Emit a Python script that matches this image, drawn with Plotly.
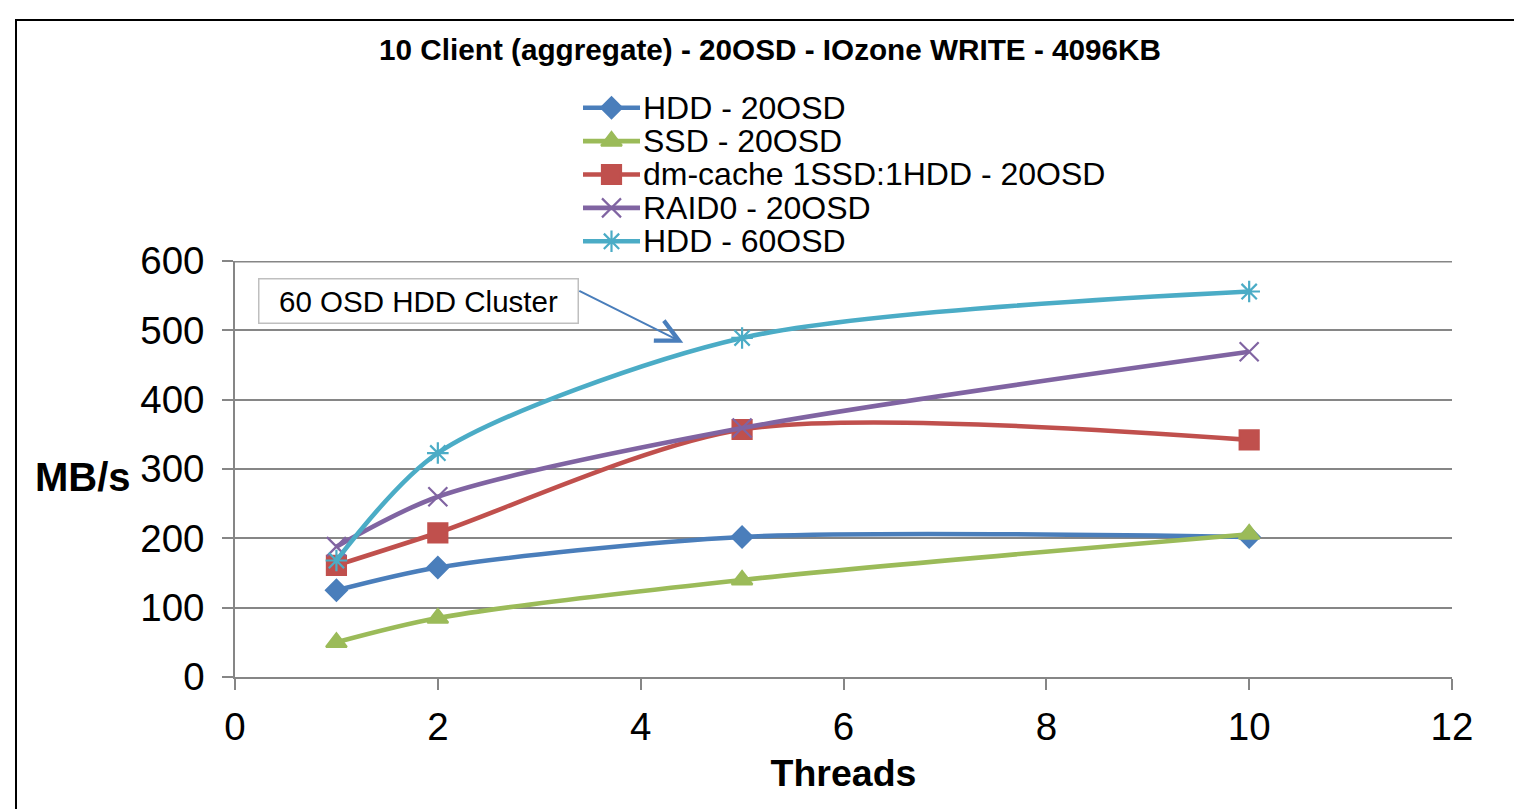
import plotly.graph_objects as go

# ---------------- data ----------------
threads = [1, 2, 5, 10]
series_names = ["HDD - 20OSD", "SSD - 20OSD", "dm-cache 1SSD:1HDD - 20OSD",
                "RAID0 - 20OSD", "HDD - 60OSD"]
hdd_20 = [125, 158, 202, 202]
ssd_20 = [50, 85, 140, 206]
dmcache_20 = [161, 208, 357, 342]
raid0_20 = [188, 260, 359, 469]
hdd_60 = [168, 323, 489, 556]
series_values = [hdd_20, ssd_20, dmcache_20, raid0_20, hdd_60]

x_ticks = [0, 2, 4, 6, 8, 10, 12]
y_ticks = [0, 100, 200, 300, 400, 500, 600]

title_text = "10 Client (aggregate) - 20OSD - IOzone WRITE - 4096KB"
x_title = "Threads"
y_title = "MB/s"
callout_text = "60 OSD HDD Cluster"

# ---------------- styles ----------------
colors = ["#4A7EBB", "#9BBB59", "#C0504D", "#8064A2", "#4BACC6"]
symbols = ["diamond", "triangle-up", "square", "x-thin-open", "asterisk-open"]
sizes = [16, 18, 19, 19, 18]
FONT = "Liberation Sans, Arial, sans-serif"
GRID = "#868686"

W, H = 1514, 809
L, R, T, B = 235, 62, 0, 132
plot_h = H - T - B           # 677
main_h = 416                 # height of main y axis domain in px
plot_w = W - L - R           # 1217

fig = go.Figure()

for name, vals, col, sym, sz in zip(series_names, series_values, colors, symbols, sizes):
    fig.add_trace(go.Scatter(
        x=threads, y=vals, name=name, mode="lines+markers",
        line=dict(color=col, width=4.6, shape="spline", smoothing=0.8),
        marker=dict(symbol=sym, size=sz, color=col, opacity=1,
                    line=dict(color=col, width=2.2)),
        showlegend=False, xaxis="x", yaxis="y",
    ))

# custom legend (samples drawn on a helper axis pair)
for i, (name, col, sym, sz) in enumerate(zip(series_names, colors, symbols, sizes)):
    fig.add_trace(go.Scatter(
        x=[0, 0.5, 1], y=[i, i, i], mode="lines+markers",
        line=dict(color=col, width=4.6),
        marker=dict(symbol=sym, size=[0, sz, 0], color=col, opacity=1,
                    line=dict(color=col, width=2.2)),
        showlegend=False, hoverinfo="skip", xaxis="x2", yaxis="y2",
    ))

annotations = []
for i, name in enumerate(series_names):
    annotations.append(dict(
        xref="x2", yref="y2", x=1, y=i, text=name, showarrow=False,
        xanchor="left", yanchor="middle", xshift=1,
        font=dict(family=FONT, size=32, color="black"),
    ))

# y axis title (horizontal)
annotations.append(dict(
    xref="paper", yref="paper", x=(133 - L) / plot_w, y=(plot_h - 477) / plot_h,
    text="<b>" + y_title + "</b>", showarrow=False, xanchor="right", yanchor="middle",
    font=dict(family=FONT, size=40, color="black"),
))

# callout box
annotations.append(dict(
    xref="x", yref="y", x=1.805, y=542, text=callout_text, showarrow=False,
    xanchor="center", yanchor="middle", width=316, height=41, borderpad=1,
    bordercolor="#BFBFBF", borderwidth=1.5, bgcolor="white",
    font=dict(family=FONT, size=29.5, color="black"),
))
# callout arrow
annotations.append(dict(
    xref="x", yref="y", axref="x", ayref="y",
    x=4.42, y=482, ax=3.38, ay=558, text="", showarrow=True,
    arrowhead=5, arrowsize=2.2, arrowwidth=2, arrowcolor="#4A7EBB", standoff=0,
))

fig.update_layout(
    width=W, height=H,
    margin=dict(l=L, r=R, t=T, b=B, pad=0, autoexpand=False),
    paper_bgcolor="white", plot_bgcolor="white",
    showlegend=False,
    title=dict(text="<b>" + title_text + "</b>", x=770 / W, xref="container",
               y=1 - 50 / H, yref="container", xanchor="center", yanchor="middle",
               font=dict(family=FONT, size=29.7, color="black")),
    xaxis=dict(
        domain=[0, 1], range=[0, 12], tickvals=x_ticks, showgrid=False, zeroline=False,
        showline=True, linecolor=GRID, linewidth=1.5,
        ticks="outside", ticklen=11, tickwidth=1.5, tickcolor=GRID,
        tickfont=dict(family=FONT, size=38.5, color="black"),
        ticklabelstandoff=4,
        title=dict(text="<b>" + x_title + "</b>", standoff=13,
                   font=dict(family=FONT, size=37.5, color="black")),
        anchor="y",
    ),
    yaxis=dict(
        domain=[0, main_h / plot_h], range=[0, 600], tickvals=y_ticks,
        showgrid=True, gridcolor=GRID, gridwidth=1.5, zeroline=False,
        showline=True, linecolor=GRID, linewidth=1.5,
        ticks="outside", ticklen=11, tickwidth=1.5, tickcolor=GRID,
        tickfont=dict(family=FONT, size=38.5, color="black"),
        ticklabelstandoff=10,
        anchor="x",
    ),
    xaxis2=dict(domain=[(583 - L) / plot_w, (640 - L) / plot_w], range=[0, 1],
                visible=False, anchor="y2", fixedrange=True),
    yaxis2=dict(domain=[(plot_h - 258) / plot_h, (plot_h - 91) / plot_h],
                range=[4.5, -0.5], visible=False, anchor="x2", fixedrange=True),
    annotations=annotations,
    shapes=[
        dict(type="rect", xref="paper", yref="paper",
             x0=(16 - L) / plot_w, x1=1.2, y0=-0.5, y1=(plot_h - 20) / plot_h,
             line=dict(color="black", width=2), fillcolor="rgba(0,0,0,0)", layer="below"),
        # top gridline (at the last y tick), half of it is clipped at the plot edge
        dict(type="line", xref="x", yref="y", x0=x_ticks[0], x1=x_ticks[-1],
             y0=y_ticks[-1], y1=y_ticks[-1], line=dict(color=GRID, width=3), layer="above"),
    ],
)

fig.write_html("out.html")
